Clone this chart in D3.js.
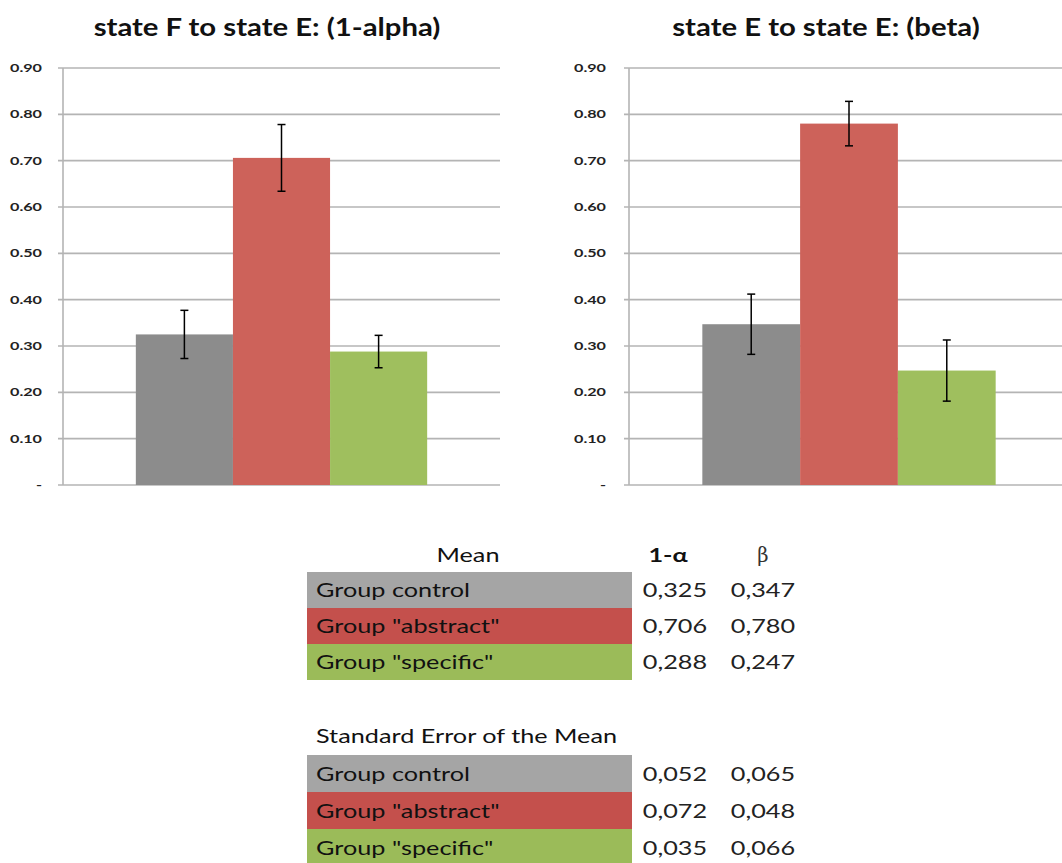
<!DOCTYPE html>
<html><head><meta charset="utf-8">
<script src="https://cdn.jsdelivr.net/npm/d3@7"></script>
<style>body{margin:0;background:#fff;} svg{display:block;}</style>
</head><body>
<svg id="c" width="1062" height="863"></svg>
<script>
const categories = ["Group control", "Group \"abstract\"", "Group \"specific\""];
const meanAlpha = [0.325, 0.706, 0.288];
const meanBeta = [0.347, 0.780, 0.247];
const semAlpha = [0.052, 0.072, 0.035];
const semBeta = [0.065, 0.048, 0.066];
const yTicks = [0, 0.1, 0.2, 0.3, 0.4, 0.5, 0.6, 0.7, 0.8, 0.9];
const titles = ["state F to state E: (1-alpha)", "state E to state E: (beta)"];
const colHeaders = ["1-\u03b1", "\u03b2"];
const meanLabel = "Mean";
const semLabel = "Standard Error of the Mean";
const fmt = v => v.toFixed(3).replace(".", ",");

const barColors = ["#8c8c8c", "#cd625a", "#9fbf5e"];
const tableColors = ["#a5a5a5", "#c4504c", "#9bbb59"];

const svg = d3.select("#c");
const font = "Lato, 'Open Sans', sans-serif";

// horizontally stretched text helper (reference image is stretched horizontally)
function stext(parent, x, yy, str, opts) {
  const g = parent.append("g").attr("transform", `translate(${x},${yy}) scale(${opts.sx},1)`);
  g.append("text").attr("x", 0).attr("y", 0)
    .attr("text-anchor", opts.anchor || "start")
    .attr("font-family", opts.family || font)
    .attr("font-weight", opts.weight || "normal")
    .attr("font-size", opts.size).attr("fill", opts.fill || "#111").text(str);
  return g;
}
function measure(str, size, weight, family) {
  const t = svg.append("text").attr("font-family", family || font).attr("font-weight", weight || "normal").attr("font-size", size).text(str);
  const w = t.node().getComputedTextLength();
  t.remove();
  return w;
}
const titleSize = 25, tickSize = 11, tableSize = 19.5;
const sxTitle = 347 / measure(titles[0], titleSize, "bold");
const sxTick = 32 / measure("0.90", tickSize, "normal");
const sxTable = 154 / measure(categories[0], tableSize, "normal");

const y = d3.scaleLinear().domain([0, 0.9]).range([485, 68]);

function chart(x0, x1, axisX, labelX, titleX, title, means, sems) {
  const g = svg.append("g");
  const x = d3.scaleBand().domain(categories).range([x0, x1]).paddingInner(0).paddingOuter(0.75);
  g.selectAll("line.grid").data(yTicks).join("line")
    .attr("x1", axisX - 5).attr("x2", Math.min(x1, 1062))
    .attr("y1", d => y(d)).attr("y2", d => y(d))
    .attr("stroke", "#b4b4b4").attr("stroke-width", 1.6);
  g.append("line").attr("x1", axisX).attr("x2", axisX).attr("y1", y(0.9)).attr("y2", y(0))
    .attr("stroke", "#b4b4b4").attr("stroke-width", 1.6);
  yTicks.forEach(d => stext(g, labelX, y(d) + 4, d === 0 ? "-" : d.toFixed(2),
    {sx: sxTick, size: tickSize, anchor: "end", fill: "#222", weight: "bold"}));
  g.selectAll("rect.bar").data(categories).join("rect")
    .attr("x", d => x(d)).attr("width", x.bandwidth())
    .attr("y", (d, i) => y(means[i])).attr("height", (d, i) => y(0) - y(means[i]))
    .attr("fill", (d, i) => barColors[i]);
  categories.forEach((c, i) => {
    const cx = x(c) + x.bandwidth() / 2;
    const lo = y(means[i] - sems[i]), hi = y(means[i] + sems[i]);
    g.append("line").attr("x1", cx).attr("x2", cx).attr("y1", lo).attr("y2", hi).attr("stroke", "#000").attr("stroke-width", 1.5);
    [lo, hi].forEach(yy => g.append("line").attr("x1", cx - 4).attr("x2", cx + 4).attr("y1", yy).attr("y2", yy).attr("stroke", "#000").attr("stroke-width", 1.5));
  });
  stext(g, titleX, 36, title, {sx: sxTitle, size: titleSize, anchor: "middle", weight: "bold", fill: "#111"});
}

chart(63, 500, 63, 42, 267, titles[0], meanAlpha, semAlpha);
chart(629, 1069, 629, 606, 826, titles[1], meanBeta, semBeta);

function table(rowTop, rowH, col1, col2) {
  const t = svg.append("g");
  categories.forEach((c, i) => {
    const ty = rowTop + i * rowH;
    t.append("rect").attr("x", 307).attr("y", ty).attr("width", 325).attr("height", rowH).attr("fill", tableColors[i]);
    const by = ty + rowH / 2 + 7;
    stext(t, 316, by, c, {sx: sxTable, size: tableSize, fill: "#111"});
    stext(t, 675, by, fmt(col1[i]), {sx: sxTable, size: tableSize, anchor: "middle", fill: "#222"});
    stext(t, 763, by, fmt(col2[i]), {sx: sxTable, size: tableSize, anchor: "middle", fill: "#222"});
  });
}
stext(svg, 468, 562, meanLabel, {sx: sxTable, size: tableSize, anchor: "middle"});
stext(svg, 668, 562, colHeaders[0], {sx: sxTable, size: tableSize, anchor: "middle", weight: "bold"});
stext(svg, 763, 562, colHeaders[1], {sx: 1, size: tableSize, anchor: "middle", family: "'DejaVu Serif', serif", fill: "#333"});
table(572, 36, meanAlpha, meanBeta);
stext(svg, 316, 743, semLabel, {sx: sxTable, size: tableSize});
table(755, 37, semAlpha, semBeta);
</script>
</body></html>
